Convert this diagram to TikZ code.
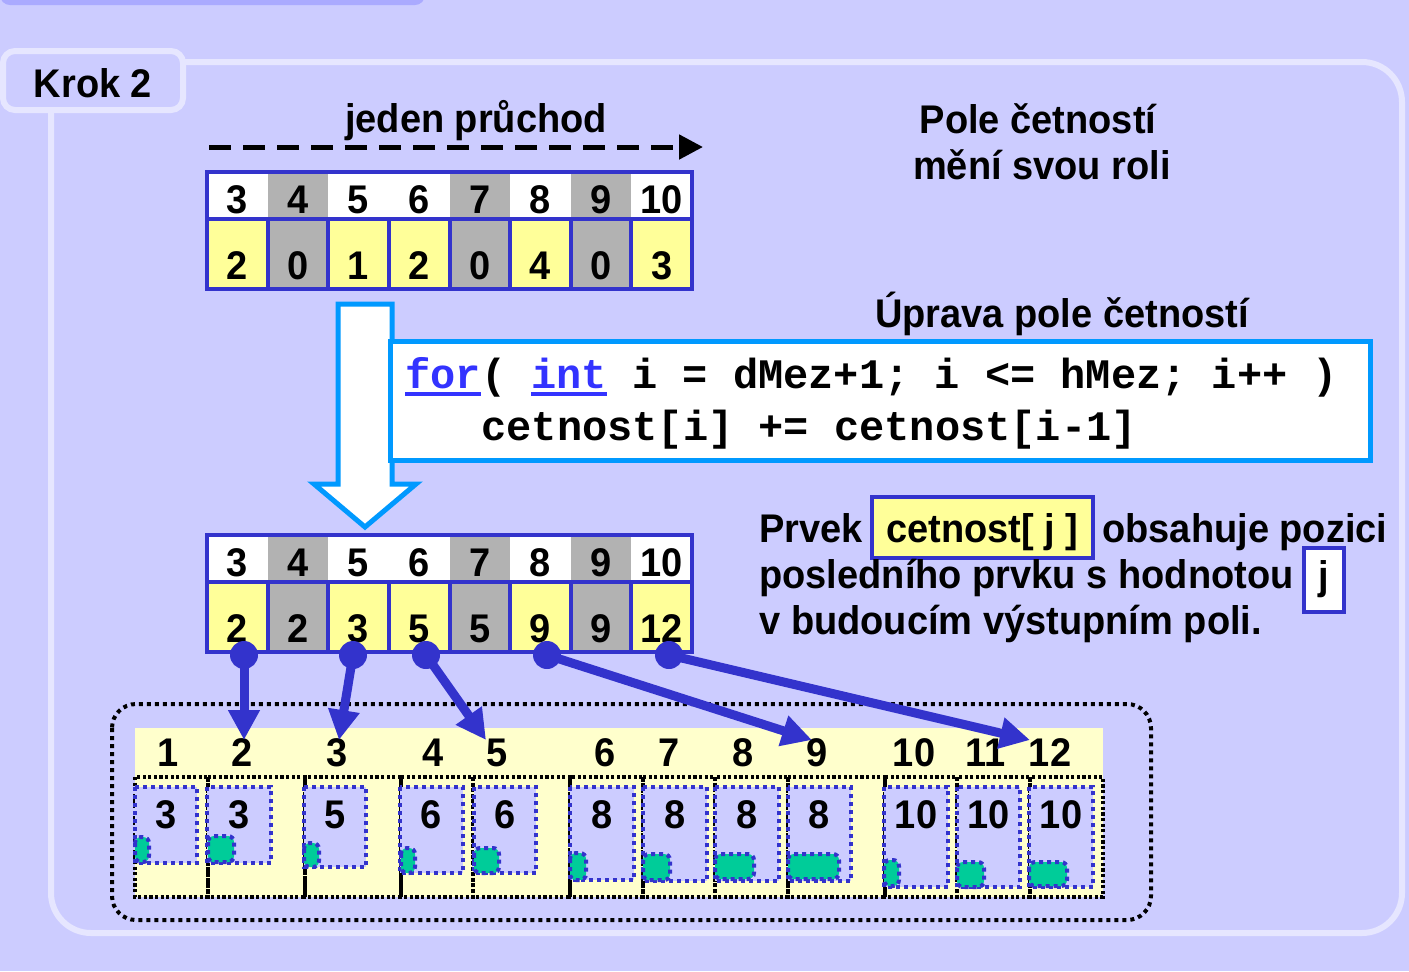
\documentclass[tikz,border=0pt]{standalone}
\usepackage{fontspec}
\setmainfont{Liberation Sans}[FakeStretch=0.95]
\setmonofont{Liberation Mono}
\usetikzlibrary{arrows.meta}
\definecolor{bg}{HTML}{CCCCFF}
\definecolor{frm}{HTML}{E6E6FF}
\definecolor{tabdk}{HTML}{AAAAFF}
\definecolor{cblue}{HTML}{3333CC}
\definecolor{cyel}{HTML}{FFFF99}
\definecolor{cgray}{HTML}{B2B2B2}
\definecolor{lyel}{HTML}{FFFFCC}
\definecolor{cgreen}{HTML}{00CC99}
\definecolor{codeblue}{HTML}{0099FF}
\definecolor{kw}{HTML}{3333FF}
\colorlet{hY}{white}
\colorlet{hG}{cgray}
\colorlet{vY}{cyel}
\colorlet{vG}{cgray}
\newcommand\kwul[1]{\textcolor{kw}{\setbox0\hbox{#1}\rlap{\rule[-4pt]{\wd0}{2pt}}\box0}}
\tikzset{
  txt/.style={font=\fontsize{20}{24}\selectfont\bfseries, inner sep=0pt},
  codetxt/.style={font=\fontsize{21}{24}\selectfont\ttfamily\bfseries, inner sep=0pt},
  hcell/.style={minimum width=30.3125pt, minimum height=23.5pt, inner sep=0pt, draw=none},
  vcell/.style={minimum width=30.3125pt, minimum height=35pt, inner sep=0pt, draw=cblue, line width=2pt},
  dotnode/.style={circle, fill=cblue, minimum size=14pt, inner sep=0pt},
  bluearrow/.style={draw=cblue, line width=4.5pt, -{Triangle[length=15pt,width=15pt]}},
  blackdots/.style={draw=black, line width=2pt, dash pattern=on 2pt off 2pt},
  celldots/.style={draw=black, line width=1.6pt, dash pattern=on 1.6pt off 1.2pt},
  bluedots/.style={draw=cblue, line width=2pt, dash pattern=on 2pt off 2pt},
}
\begin{document}
\begin{tikzpicture}[x=0.5pt,y=-0.5pt]
\useasboundingbox (0,0) rectangle (1409,971);
\fill[bg] (0,0) rectangle (1409,971);
% top dark tab
\fill[tabdk, rounded corners=5pt] (0,-20) rectangle (425,5);
% frame
\draw[frm, line width=3pt, rounded corners=20pt] (51,62) rectangle (1402,933);
% Krok tab
\node[draw=frm, line width=3pt, fill=bg, rounded corners=6pt, minimum width=90pt, minimum height=29.5pt, inner sep=0pt] (krok) at (93,80.5) {};
\node[txt, anchor=base] (kroktxt) at (93,97) {Krok 2};
% one pass arrow
\node[txt, anchor=base] (jeden) at (476,132) {jeden průchod};
\coordinate (js) at (209,147);
\coordinate (je) at (703,147);
\draw[line width=2.5pt, dash pattern=on 11pt off 6pt, -{Triangle[length=12pt,width=12pt]}] (js) -- (je);
% array 1
\foreach \i/\h/\v/\c in {0/3/2/Y,1/4/0/G,2/5/1/Y,3/6/2/Y,4/7/0/G,5/8/4/Y,6/9/0/G,7/10/3/Y}{
  \pgfmathsetmacro\cx{207+60.625*\i+30.3125}
  \node[hcell, fill=h\c] (ah\i) at (\cx,195.5) {};
  \node[vcell, fill=v\c] (av\i) at (\cx,254) {};
}
\draw[cblue, line width=2pt] (207,172) rectangle (692,289);
\foreach \i/\h/\v in {0/3/2,1/4/0,2/5/1,3/6/2,4/7/0,5/8/4,6/9/0,7/10/3}{
  \pgfmathsetmacro\cx{207+60.625*\i+30.3125}
  \node[txt, anchor=base] (aht\i) at (\cx,213) {\h};
  \node[txt, anchor=base] (avt\i) at (\cx,279) {\v};
}
% Pole cetnosti
\node[txt, anchor=base] (pole1) at (1038,133) {Pole četností};
\node[txt, anchor=base] (pole2) at (1042,179) {mění svou roli};
% hollow arrow
\draw[codeblue, line width=2.5pt, fill=white] (338,304) -- (392,304) -- (392,484) -- (416,484) -- (365,527) -- (314,484) -- (338,484) -- cycle;
% code box
\node[txt, anchor=base] (uprava) at (1062,327) {Úprava pole četností};
\node[draw=codeblue, line width=2.5pt, fill=white, minimum width=490pt, minimum height=59.5pt, inner sep=0pt] (code) at (880,400.5) {};
\node[codetxt, anchor=base west] (c1) at (405,388) {\kwul{for}( \kwul{int} i = dMez+1; i <= hMez; i++ )};
\node[codetxt, anchor=base west] (c2) at (481,440) {cetnost[i] += cetnost[i-1]};
% array 2
\foreach \i/\h/\v/\c in {0/3/2/Y,1/4/2/G,2/5/3/Y,3/6/5/Y,4/7/5/G,5/8/9/Y,6/9/9/G,7/10/12/Y}{
  \pgfmathsetmacro\cx{207+60.625*\i+30.3125}
  \node[hcell, fill=h\c] (bh\i) at (\cx,558.5) {};
  \node[vcell, fill=v\c] (bv\i) at (\cx,617) {};
}
\draw[cblue, line width=2pt] (207,535) rectangle (692,652);
\foreach \i/\h/\v in {0/3/2,1/4/2,2/5/3,3/6/5,4/7/5,5/8/9,6/9/9,7/10/12}{
  \pgfmathsetmacro\cx{207+60.625*\i+30.3125}
  \node[txt, anchor=base] (bht\i) at (\cx,576) {\h};
  \node[txt, anchor=base] (bvt\i) at (\cx,642) {\v};
}
% explanation text
\node[txt, anchor=base west] (e1) at (759,542) {Prvek};
\node[draw=cblue, line width=2pt, fill=cyel, minimum width=110.5pt, minimum height=30.5pt, inner sep=0pt] (cbox) at (982.5,527.5) {};
\node[txt, anchor=base] (ctext) at (982.5,542) {cetnost[ j ]};
\node[txt, anchor=base west] (e2) at (1102,542) {obsahuje pozici};
\node[txt, anchor=base west] (e3) at (759,588) {posledního prvku s hodnotou};
\node[draw=cblue, line width=2pt, fill=white, minimum width=20pt, minimum height=32pt, inner sep=0pt] (jbox) at (1323.5,579.5) {};
\node[txt, anchor=base] (jtxt) at (1323.5,589) {j};
\node[txt, anchor=base west] (e4) at (759,634) {v budoucím výstupním poli.};
% bottom section
\draw[blackdots, rounded corners=12pt] (112,704) rectangle (1151,920);
\fill[lyel] (135,728) rectangle (1103,897);
\foreach \a/\b in {135/208,208/305,305/401,401/473,473/570,570/643,643/715,715/788,788/885,885/957,957/1030,1030/1103}{
  \draw[celldots] (\a,777) rectangle (\b,897);
}
\foreach \n/\xa/\xb/\yb/\ga/\gb/\gy/\gyb/\val in {
  1/135/197/863/135/149/837/862/3,
  2/207/271/863/208/234/836/862/3,
  3/304/366/867/304/319/843/867/5,
  4/400/463/873/401/415/848/873/6,
  5/474/536/873/474/499/848/873/6,
  6/570/634/880/570/586/853/880/8,
  7/643/707/881/643/670/854/880/8,
  8/715/779/881/715/754/854/879/8,
  9/788/851/881/788/839/854/879/8,
  10/884/948/887/884/899/860/886/10,
  11/957/1020/887/957/984/862/887/10,
  12/1029/1093/887/1029/1067/862/886/10}{
  \draw[bluedots, fill=bg] (\xa,787) rectangle (\xb,\yb);
  \draw[bluedots, fill=cgreen, rounded corners=3pt] (\ga,\gy) rectangle (\gb,\gyb);
  \node[txt, anchor=base] (cv\n) at ({(\xa+\xb)/2},828) {\val};
}
\foreach \n/\x in {1/168,2/242,3/337,4/433,5/497,6/605,7/669,8/743,9/817,10/914,11/986,12/1050}{
  \node[txt, anchor=base] (lab\n) at (\x,766) {\n};
}
% dots and arrows
\node[dotnode] (d1) at (244,655) {};
\node[dotnode] (d2) at (353,655) {};
\node[dotnode] (d3) at (426,655) {};
\node[dotnode] (d4) at (547,655) {};
\node[dotnode] (d5) at (669,655) {};
\coordinate (t1) at (244,740);
\coordinate (t2) at (339,740);
\coordinate (t3) at (486,740);
\coordinate (t4) at (812,740);
\coordinate (t5) at (1030,740);
\draw[bluearrow] (d1.center) -- (t1);
\draw[bluearrow] (d2.center) -- (t2);
\draw[bluearrow] (d3.center) -- (t3);
\draw[bluearrow] (d4.center) -- (t4);
\draw[bluearrow] (d5.center) -- (t5);
\end{tikzpicture}
\end{document}
